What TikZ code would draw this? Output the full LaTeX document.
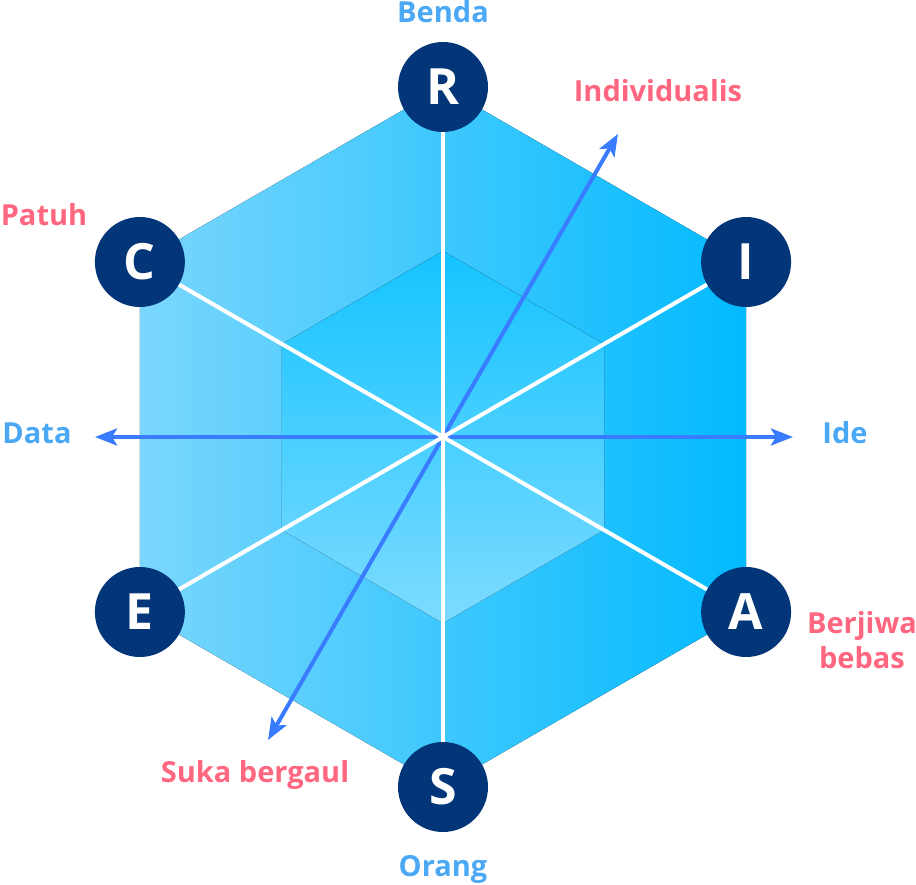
\documentclass[tikz,border=0pt]{standalone}
\usepackage{fontspec}
\setmainfont{Open Sans}
\usetikzlibrary{arrows.meta, calc}
\definecolor{navy}{RGB}{3,53,121}
\definecolor{hexlight}{RGB}{122,214,253}
\definecolor{hexdark}{RGB}{2,186,254}
\definecolor{innertop}{RGB}{20,195,255}
\definecolor{innerbottom}{RGB}{125,219,255}
\definecolor{axisblue}{RGB}{58,124,255}
\definecolor{labelblue}{RGB}{74,168,245}
\definecolor{labelpink}{RGB}{255,102,128}

\begin{document}
\begin{tikzpicture}[x=1pt, y=1pt,
    letter/.style={circle, fill=navy, minimum size=90pt, inner sep=0pt, text=white,
        font=\fontsize{50}{50}\selectfont\bfseries},
    spoke/.style={white, line width=4pt},
    axisline/.style={axisblue, line width=4pt,
        {Stealth[length=22pt, width=17pt, inset=5pt]}-{Stealth[length=22pt, width=17pt, inset=5pt]}},
    bluelabel/.style={text=labelblue, anchor=base, font=\fontsize{29}{35}\selectfont\bfseries},
    pinklabel/.style={bluelabel, text=labelpink}]
        \useasboundingbox (-443,-447) rectangle (473,437);
        %esagono esterno
        \fill[left color=hexlight, right color=hexdark]
        (90:350) -- (30:350) -- (-30:350) -- (-90:350) -- (-150:350) -- (150:350) -- cycle;
        %esagono interno
        \fill[top color=innertop, bottom color=innerbottom]
        (90:186) -- (30:186) -- (-30:186) -- (-90:186) -- (-150:186) -- (150:186) -- cycle;
        
        %centro e assi
        \coordinate (o) at (0,0);
        \coordinate (data) at (180:348);
        \coordinate (ide) at (0:350);
        \coordinate (gaul) at (240:350);
        \coordinate (indiv) at (60:350);
        \draw[axisline] (data) -- (ide);
        \draw[axisline] (gaul) -- (indiv);
        
        %cerchi RIASEC
        \node[letter] (R) at (90:350) {R};
        \node[letter] (I) at (30:350) {I};
        \node[letter] (A) at (-30:350) {A};
        \node[letter] (S) at (-90:350) {S};
        \node[letter] (E) at (-150:350) {E};
        \node[letter] (C) at (150:350) {C};
        
        %raggi
        \foreach \v in {R,I,A,S,E,C}
            \draw[spoke] (o) -- (\v);
        
        %etichette
        \node[bluelabel] (benda) at (0,414) {Benda};
        \node[bluelabel] (orang) at (0,-439) {Orang};
        \node[bluelabel] (ldata) at (-406,-6) {Data};
        \node[bluelabel] (lide) at (402,-6) {Ide};
        %----
        \node[pinklabel] (individualis) at (215,335) {Individualis};
        \node[pinklabel] (patuh) at (-399,211) {Patuh};
        \node[pinklabel, align=center] (berjiwa) at (419,-231) {Berjiwa\\bebas};
        \node[pinklabel] (suka) at (-188,-345) {Suka bergaul};
\end{tikzpicture}
\end{document}
